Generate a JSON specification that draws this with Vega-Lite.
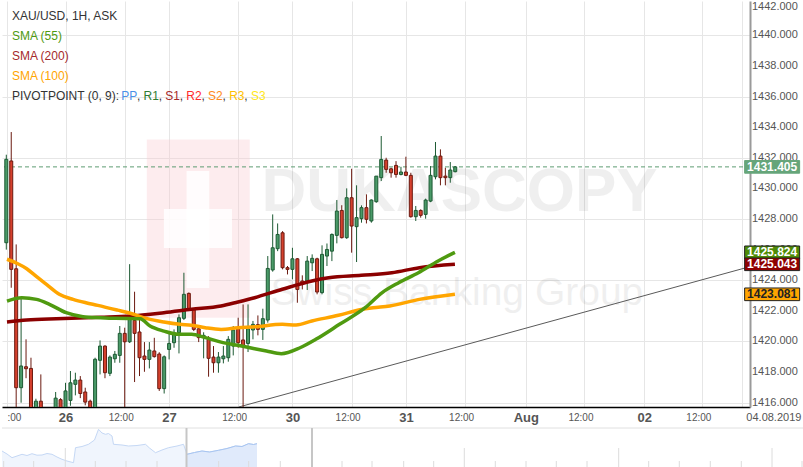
{
"$schema": "https://vega.github.io/schema/vega-lite/v6.json",
"padding": 0,
"background": "white",
"config": {"view": {"stroke": null}, "font": "Liberation Sans"},
"spacing": 21,
"bounds": "flush",
"datasets": {
"one": [{}],
"candles": [
{"t":-1,"o":1426.45,"h":1432.2,"l":1426.0,"c":1431.9},
{"t":0,"o":1431.79,"h":1433.68,"l":1423.51,"c":1424.71},
{"t":1,"o":1424.75,"h":1426.34,"l":1415.3,"c":1416.98},
{"t":2,"o":1416.98,"h":1422.86,"l":1416.0,"c":1418.4},
{"t":3,"o":1418.35,"h":1420.14,"l":1417.6,"c":1418.22},
{"t":4,"o":1418.24,"h":1418.94,"l":1415.2,"c":1415.5},
{"t":5,"o":1415.5,"h":1416.26,"l":1415.1,"c":1416.1},
{"t":6,"o":1416.1,"h":1417.85,"l":1415.0,"c":1415.3},
{"t":7,"o":1415.3,"h":1415.6,"l":1414.6,"c":1414.9},
{"t":8,"o":1414.9,"h":1415.6,"l":1414.5,"c":1415.4},
{"t":9,"o":1415.4,"h":1416.7,"l":1415.1,"c":1416.3},
{"t":10,"o":1416.2,"h":1416.3,"l":1415.2,"c":1415.5},
{"t":11,"o":1415.5,"h":1417.3,"l":1415.3,"c":1416.77},
{"t":12,"o":1416.15,"h":1418.07,"l":1415.8,"c":1417.3},
{"t":13,"o":1417.2,"h":1417.96,"l":1416.48,"c":1417.48},
{"t":14,"o":1417.48,"h":1417.74,"l":1416.3,"c":1416.6},
{"t":15,"o":1416.7,"h":1416.98,"l":1415.83,"c":1416.04},
{"t":16,"o":1416.1,"h":1416.2,"l":1415.3,"c":1415.5},
{"t":17,"o":1415.6,"h":1418.94,"l":1415.4,"c":1418.84},
{"t":18,"o":1418.77,"h":1420.07,"l":1417.85,"c":1419.7},
{"t":19,"o":1419.7,"h":1419.75,"l":1417.6,"c":1417.96},
{"t":20,"o":1417.92,"h":1419.09,"l":1417.74,"c":1418.98},
{"t":21,"o":1418.87,"h":1419.38,"l":1418.61,"c":1419.16},
{"t":22,"o":1419.09,"h":1421.01,"l":1418.61,"c":1420.53},
{"t":23,"o":1420.53,"h":1420.9,"l":1415.2,"c":1419.98},
{"t":24,"o":1419.98,"h":1425.05,"l":1419.9,"c":1421.52},
{"t":25,"o":1421.38,"h":1423.25,"l":1417.35,"c":1420.53},
{"t":26,"o":1420.62,"h":1421.55,"l":1417.74,"c":1418.94},
{"t":27,"o":1419.05,"h":1419.96,"l":1418.02,"c":1418.83},
{"t":28,"o":1418.83,"h":1419.96,"l":1418.24,"c":1419.44},
{"t":29,"o":1419.38,"h":1420.24,"l":1418.95,"c":1419.01},
{"t":30,"o":1419.18,"h":1419.3,"l":1416.77,"c":1416.92},
{"t":31,"o":1416.92,"h":1419.09,"l":1416.6,"c":1419.0},
{"t":32,"o":1419.48,"h":1420.57,"l":1418.83,"c":1419.87},
{"t":33,"o":1419.92,"h":1420.79,"l":1419.59,"c":1420.46},
{"t":34,"o":1420.57,"h":1421.77,"l":1419.22,"c":1421.55},
{"t":35,"o":1421.51,"h":1424.49,"l":1421.4,"c":1423.08},
{"t":36,"o":1423.14,"h":1423.2,"l":1422.0,"c":1422.14},
{"t":37,"o":1422.1,"h":1422.14,"l":1420.68,"c":1420.79},
{"t":38,"o":1420.83,"h":1421.01,"l":1419.96,"c":1420.25},
{"t":39,"o":1420.3,"h":1420.6,"l":1418.9,"c":1420.4},
{"t":40,"o":1420.14,"h":1420.35,"l":1417.7,"c":1418.9},
{"t":41,"o":1418.98,"h":1419.7,"l":1417.96,"c":1418.61},
{"t":42,"o":1418.61,"h":1419.31,"l":1417.96,"c":1418.98},
{"t":43,"o":1418.87,"h":1419.7,"l":1418.57,"c":1419.05},
{"t":44,"o":1418.94,"h":1420.35,"l":1418.68,"c":1420.14},
{"t":45,"o":1419.7,"h":1421.01,"l":1419.09,"c":1420.75},
{"t":46,"o":1420.83,"h":1421.55,"l":1419.59,"c":1419.92},
{"t":47,"o":1420.1,"h":1422.42,"l":1414.5,"c":1419.7},
{"t":48,"o":1419.87,"h":1422.42,"l":1419.31,"c":1420.83},
{"t":49,"o":1420.75,"h":1421.34,"l":1420.14,"c":1421.12},
{"t":50,"o":1421.1,"h":1421.7,"l":1420.4,"c":1420.79},
{"t":51,"o":1420.79,"h":1422.14,"l":1420.1,"c":1421.49},
{"t":52,"o":1421.4,"h":1425.58,"l":1421.23,"c":1424.77},
{"t":53,"o":1424.67,"h":1428.3,"l":1424.56,"c":1426.12},
{"t":54,"o":1426.06,"h":1427.71,"l":1425.9,"c":1426.99},
{"t":55,"o":1427.1,"h":1427.21,"l":1424.71,"c":1424.82},
{"t":56,"o":1424.82,"h":1424.93,"l":1424.38,"c":1424.71},
{"t":57,"o":1424.71,"h":1426.12,"l":1424.06,"c":1425.4},
{"t":58,"o":1425.4,"h":1425.45,"l":1422.53,"c":1423.4},
{"t":59,"o":1423.95,"h":1424.32,"l":1423.4,"c":1423.8},
{"t":60,"o":1423.95,"h":1425.58,"l":1423.36,"c":1425.25},
{"t":61,"o":1425.14,"h":1425.69,"l":1424.6,"c":1425.43},
{"t":62,"o":1425.4,"h":1425.47,"l":1423.08,"c":1423.23},
{"t":63,"o":1423.19,"h":1426.28,"l":1423.08,"c":1425.69},
{"t":64,"o":1425.58,"h":1426.4,"l":1424.93,"c":1426.01},
{"t":65,"o":1425.9,"h":1427.06,"l":1425.25,"c":1426.99},
{"t":66,"o":1426.93,"h":1429.24,"l":1426.41,"c":1428.52},
{"t":67,"o":1428.56,"h":1428.9,"l":1426.73,"c":1426.78},
{"t":68,"o":1426.78,"h":1430.0,"l":1426.7,"c":1429.39},
{"t":69,"o":1429.39,"h":1431.28,"l":1425.8,"c":1427.54},
{"t":70,"o":1427.5,"h":1430.2,"l":1425.19,"c":1428.09},
{"t":71,"o":1428.02,"h":1428.89,"l":1427.76,"c":1428.74},
{"t":72,"o":1428.74,"h":1429.61,"l":1427.71,"c":1427.98},
{"t":73,"o":1427.87,"h":1429.28,"l":1427.76,"c":1429.24},
{"t":74,"o":1429.13,"h":1430.8,"l":1429.06,"c":1430.8},
{"t":75,"o":1430.7,"h":1433.42,"l":1430.48,"c":1431.89},
{"t":76,"o":1431.85,"h":1432.0,"l":1431.02,"c":1431.24},
{"t":77,"o":1431.28,"h":1431.35,"l":1430.7,"c":1431.02},
{"t":78,"o":1431.5,"h":1431.78,"l":1430.7,"c":1430.91},
{"t":79,"o":1430.91,"h":1431.41,"l":1430.85,"c":1431.07},
{"t":80,"o":1431.07,"h":1432.07,"l":1430.8,"c":1430.85},
{"t":81,"o":1430.85,"h":1431.02,"l":1428.09,"c":1428.15},
{"t":82,"o":1428.15,"h":1428.85,"l":1427.87,"c":1428.56},
{"t":83,"o":1428.56,"h":1428.63,"l":1428.09,"c":1428.24},
{"t":84,"o":1428.3,"h":1429.33,"l":1428.02,"c":1429.24},
{"t":85,"o":1429.17,"h":1431.46,"l":1429.1,"c":1430.85},
{"t":86,"o":1430.76,"h":1433.03,"l":1430.59,"c":1432.11},
{"t":87,"o":1432.11,"h":1432.55,"l":1430.2,"c":1430.7},
{"t":88,"o":1430.8,"h":1431.35,"l":1430.2,"c":1430.7},
{"t":89,"o":1430.7,"h":1431.72,"l":1430.37,"c":1431.2},
{"t":90,"o":1431.09,"h":1431.46,"l":1431.05,"c":1431.405}
],
"sma": [
{"s":"200","t":-0.86,"v":1421.27},{"s":"200","t":3.14,"v":1421.40},{"s":"200","t":9.14,"v":1421.49},{"s":"200","t":18.14,"v":1421.58},{"s":"200","t":24.14,"v":1421.66},{"s":"200","t":30.94,"v":1421.88},{"s":"200","t":36.54,"v":1422.10},{"s":"200","t":42.54,"v":1422.32},{"s":"200","t":45.94,"v":1422.58},{"s":"200","t":49.34,"v":1422.86},{"s":"200","t":54.94,"v":1423.41},{"s":"200","t":60.94,"v":1423.95},{"s":"200","t":64.34,"v":1424.16},{"s":"200","t":70.94,"v":1424.32},{"s":"200","t":77.14,"v":1424.49},{"s":"200","t":82.74,"v":1424.82},{"s":"200","t":89.94,"v":1425.04},
{"s":"100","t":-0.86,"v":1425.37},{"s":"100","t":1.14,"v":1425.11},{"s":"100","t":3.14,"v":1424.75},{"s":"100","t":5.14,"v":1424.23},{"s":"100","t":7.14,"v":1423.73},{"s":"100","t":9.74,"v":1423.08},{"s":"100","t":12.54,"v":1422.75},{"s":"100","t":15.14,"v":1422.53},{"s":"100","t":17.54,"v":1422.36},{"s":"100","t":21.54,"v":1422.05},{"s":"100","t":24.14,"v":1421.84},{"s":"100","t":27.54,"v":1421.49},{"s":"100","t":30.94,"v":1421.27},{"s":"100","t":34.14,"v":1421.12},{"s":"100","t":36.54,"v":1421.06},{"s":"100","t":39.34,"v":1420.90},{"s":"100","t":42.54,"v":1420.79},{"s":"100","t":45.94,"v":1420.90},{"s":"100","t":49.34,"v":1420.96},{"s":"100","t":54.94,"v":1421.12},{"s":"100","t":57.74,"v":1421.08},{"s":"100","t":60.94,"v":1421.34},{"s":"100","t":66.34,"v":1421.71},{"s":"100","t":70.94,"v":1422.09},{"s":"100","t":73.34,"v":1422.20},{"s":"100","t":76.74,"v":1422.32},{"s":"100","t":82.74,"v":1422.75},{"s":"100","t":89.94,"v":1423.08},
{"s":"55","t":-0.86,"v":1422.64},{"s":"55","t":2.14,"v":1422.86},{"s":"55","t":5.14,"v":1422.75},{"s":"55","t":7.74,"v":1422.43},{"s":"55","t":11.14,"v":1421.88},{"s":"55","t":14.54,"v":1421.62},{"s":"55","t":18.14,"v":1421.55},{"s":"55","t":21.14,"v":1421.51},{"s":"55","t":26.14,"v":1421.49},{"s":"55","t":28.14,"v":1421.01},{"s":"55","t":30.94,"v":1420.68},{"s":"55","t":33.94,"v":1420.47},{"s":"55","t":36.54,"v":1420.47},{"s":"55","t":39.34,"v":1420.25},{"s":"55","t":42.54,"v":1419.96},{"s":"55","t":45.94,"v":1419.75},{"s":"55","t":49.34,"v":1419.53},{"s":"55","t":51.74,"v":1419.38},{"s":"55","t":54.74,"v":1419.20},{"s":"55","t":58.54,"v":1419.59},{"s":"55","t":61.74,"v":1420.14},{"s":"55","t":66.54,"v":1421.12},{"s":"55","t":71.74,"v":1422.21},{"s":"55","t":75.14,"v":1423.18},{"s":"55","t":78.54,"v":1423.84},{"s":"55","t":82.54,"v":1424.49},{"s":"55","t":86.54,"v":1425.26},{"s":"55","t":89.94,"v":1425.82}
],
"trend": [{"t":46.14,"v":1415.72},{"t":148.74,"v":1424.80}],
"yticks": [{"v":1416},{"v":1418},{"v":1420},{"v":1422},{"v":1424},{"v":1426},{"v":1428},{"v":1430},{"v":1432},{"v":1434},{"v":1436},{"v":1438},{"v":1440},{"v":1442}],
"boxes": [
{"k":"price","v":1431.405,"lab":"1431.405"},
{"k":"sma55","v":1425.824,"lab":"1425.824"},
{"k":"sma200","v":1425.043,"lab":"1425.043"},
{"k":"sma100","v":1423.081,"lab":"1423.081"}
],
"nav": [
{"n":0,"v":17},{"n":1,"v":14},{"n":2,"v":10.3},{"n":3,"v":12},{"n":4,"v":13.7},{"n":5,"v":12.5},{"n":6,"v":14.3},{"n":7,"v":12.8},{"n":8,"v":13},{"n":9,"v":14.5},{"n":10,"v":13.7},{"n":11,"v":11},{"n":12,"v":8.7},{"n":13,"v":7},{"n":14.3,"v":5.3},{"n":14.7,"v":20.3},{"n":16,"v":21.5},{"n":17.3,"v":23.7},{"n":18.5,"v":28},{"n":19.3,"v":38.7},{"n":20,"v":35},{"n":20.7,"v":33.7},{"n":21.3,"v":34.5},{"n":22,"v":32},{"n":22.3,"v":23.7},{"n":24,"v":23},{"n":25.3,"v":22},{"n":27,"v":22.5},{"n":28.7,"v":23.7},{"n":29.5,"v":20},{"n":30.7,"v":15.3},{"n":32,"v":18},{"n":33.3,"v":20.3},{"n":35,"v":22},{"n":36.3,"v":23.7},{"n":37,"v":13.7},{"n":38.5,"v":15.5},{"n":40,"v":17},{"n":41.5,"v":16},{"n":43.3,"v":17.7},{"n":45,"v":19.5},{"n":46.7,"v":22},{"n":48,"v":21.5},{"n":49.3,"v":24.3},{"n":50.3,"v":23.5},{"n":51,"v":24.3}
],
"navticks": [{"n":0.34},{"n":6.34},{"n":18.66},{"n":24.8},{"n":31},{"n":43.34},{"n":49.34},{"n":55.66},{"n":68},{"n":74},{"n":80.34},{"n":86.34},{"n":98.66},{"n":104.8},{"n":110.86},{"n":117},{"n":129.34},{"n":135.46},{"n":141.66},{"n":147.86},{"n":160}],
"navdays": [{"n":12.66},{"n":92.46},{"n":123.34},{"n":154}]
},
"vconcat": [
{
"width": 748,
"height": 406,
"layer": [
{"data":{"name":"one"},"mark":{"type":"rect","fill":"#f9c9cd","opacity":0.35},"encoding":{"x":{"datum":27.48},"x2":{"datum":48.34},"y":{"datum":1433.2},"y2":{"datum":1421.55}}},
{"data":{"name":"one"},"mark":{"type":"rect","fill":"white","opacity":0.85},"encoding":{"x":{"datum":35.54},"x2":{"datum":40.14},"y":{"datum":1431.13},"y2":{"datum":1423.49}}},
{"data":{"name":"one"},"mark":{"type":"rect","fill":"white","opacity":0.85},"encoding":{"x":{"datum":30.94},"x2":{"datum":44.74},"y":{"datum":1428.65},"y2":{"datum":1426.1}}},
{"data":{"name":"one"},"mark":{"type":"text","text":"DUKASCOPY","font":"Liberation Sans","fontWeight":"bold","fontSize":62,"align":"left","baseline":"alphabetic","fill":"#000000","opacity":0.06},"encoding":{"x":{"datum":50.74},"y":{"datum":1428.52}}},
{"data":{"name":"one"},"mark":{"type":"text","text":"Swiss Banking Group","font":"Liberation Sans","fontSize":39,"align":"left","baseline":"alphabetic","fill":"#000000","opacity":0.06},"encoding":{"x":{"datum":52.54},"y":{"datum":1422.38}}},
{"data":{"name":"one"},"mark":{"type":"rule","color":"#5e9c72","strokeWidth":1,"strokeDash":[4,3]},"encoding":{"y":{"datum":1431.405}}},
{"data":{"name":"trend"},"mark":{"type":"line","color":"#5a5a5a","strokeWidth":1,"clip":true},"encoding":{"x":{"field":"t","type":"quantitative"},"y":{"field":"v","type":"quantitative"}}},
{"data":{"name":"candles"},"mark":{"type":"rule","strokeWidth":1,"clip":true},
 "encoding":{
  "x":{"field":"t","type":"quantitative","scale":{"domain":[-0.86,148.74],"nice":false,"zero":false},
   "axis":{"title":null,"orient":"bottom","values":[-0.86,11,23,32,46,57,69,80,92,104.3,116.2,128.3,140.1,148.1],
    "labelExpr":"datum.value < 0 ? ':00' : datum.value < 12 ? '26' : datum.value < 30 ? '12:00' : datum.value < 40 ? '27' : datum.value < 50 ? '12:00' : datum.value < 60 ? '30' : datum.value < 75 ? '12:00' : datum.value < 85 ? '31' : datum.value < 100 ? '12:00' : datum.value < 110 ? 'Aug' : datum.value < 120 ? '12:00' : datum.value < 135 ? '02' : datum.value < 145 ? '12:00' : '04.08.2019'",
    "labelFlush":false,"labelOverlap":false,"ticks":false,"tickSize":0,"labelPadding":10,"labelBaseline":"middle","labelColor":"#555555","labelFont":"Liberation Sans",
    "labelFontWeight":{"condition":{"test":"indexof([-0.86,23,46,69,92,116.2,140.1,148.1], datum.value) >= 0","value":"normal"},"value":"bold"},
    "labelFontSize":{"condition":[{"test":"datum.value > 148","value":11},{"test":"indexof([-0.86,23,46,69,92,116.2,140.1], datum.value) >= 0","value":10}],"value":13},
    "labelOffset":{"condition":[{"test":"datum.value > 148","value":4},{"test":"indexof([23,46,69,92,116.2,140.1], datum.value) >= 0","value":-4}],"value":0},
    "labelAlign":{"condition":{"test":"datum.value < 0 || datum.value > 148","value":"left"},"value":"center"},
    "domainColor":"#000000","domainWidth":1.5,"grid":true,"gridColor":"#e6e6e6","gridWidth":1}},
  "y":{"field":"l","type":"quantitative","scale":{"domain":[1415.72,1442.24],"nice":false,"zero":false},
   "axis":{"title":null,"orient":"right","values":[1416,1418,1420,1422,1424,1426,1428,1430,1432,1434,1436,1438,1440,1442],"labels":false,"ticks":false,"tickSize":0,"domainColor":"#9a9a9a","domainWidth":2,"grid":true,"gridColor":"#e6e6e6","gridWidth":1}},
  "y2":{"field":"h"},
  "color":{"condition":{"test":"datum.c < datum.o","value":"#6b1a10"},"value":"#1d5a33"}
 }},
{"data":{"name":"candles"},"mark":{"type":"bar","width":3,"strokeWidth":1,"clip":true},
 "encoding":{
  "x":{"field":"t","type":"quantitative"},
  "y":{"field":"o","type":"quantitative"},
  "y2":{"field":"c"},
  "fill":{"condition":{"test":"datum.c < datum.o","value":"#d5402d"},"value":"#4a9a68"},
  "stroke":{"condition":{"test":"datum.c < datum.o","value":"#6b1a10"},"value":"#1d5a33"}
 }},
{"data":{"name":"sma"},"mark":{"type":"line","strokeWidth":3.5,"clip":true,"interpolate":"monotone"},
 "encoding":{
  "x":{"field":"t","type":"quantitative"},
  "y":{"field":"v","type":"quantitative"},
  "color":{"field":"s","type":"nominal","scale":{"domain":["200","100","55"],"range":["#8b0000","#ffa500","#4f9a10"]},"legend":null}
 }},
{"data":{"name":"yticks"},"transform":[{"filter":"datum.v < 1441"}],"mark":{"type":"text","align":"left","baseline":"middle","fontSize":11,"color":"#555555","font":"Liberation Sans"},
 "encoding":{"x":{"datum":150.14},"y":{"field":"v","type":"quantitative"},"text":{"field":"v","type":"quantitative","format":".3f"}}},
{"data":{"name":"yticks"},"transform":[{"filter":"datum.v > 1441"}],"mark":{"type":"text","align":"left","baseline":"middle","fontSize":11,"color":"#555555","font":"Liberation Sans","dy":2},
 "encoding":{"x":{"datum":150.14},"y":{"field":"v","type":"quantitative"},"text":{"field":"v","type":"quantitative","format":".3f"}}},
{"data":{"name":"boxes"},"mark":{"type":"point","shape":"M-1,-0.23L1,-0.23L1,0.23L-1,0.23Z","size":3025,"filled":true,"opacity":1,"strokeWidth":1},
 "encoding":{
  "x":{"datum":154.24},
  "y":{"field":"v","type":"quantitative"},
  "fill":{"field":"k","type":"nominal","scale":{"domain":["price","sma55","sma200","sma100"],"range":["#66a57a","#4e8b06","#8f0000","#ffa500"]},"legend":null},
  "stroke":{"condition":{"test":"datum.k == 'price'","value":"#66a57a"},"value":"#222222"}
 }},
{"data":{"name":"boxes"},"mark":{"type":"text","align":"center","baseline":"middle","fontSize":12,"fontWeight":"bold","font":"Liberation Sans"},
 "encoding":{
  "x":{"datum":154.24},
  "y":{"field":"v","type":"quantitative"},
  "text":{"field":"lab"},
  "color":{"condition":{"test":"datum.k == 'sma100'","value":"#222222"},"value":"#ffffff"}
 }},
{"data":{"name":"one"},"mark":{"type":"text","text":"XAU/USD, 1H, ASK","align":"left","baseline":"middle","fontSize":12,"color":"#333333"},"encoding":{"x":{"datum":0.14},"y":{"datum":1441.26}}},
{"data":{"name":"one"},"mark":{"type":"text","text":"SMA (55)","align":"left","baseline":"middle","fontSize":12,"color":"#4f9a10"},"encoding":{"x":{"datum":0.14},"y":{"datum":1439.95}}},
{"data":{"name":"one"},"mark":{"type":"text","text":"SMA (200)","align":"left","baseline":"middle","fontSize":12,"color":"#a52a2a"},"encoding":{"x":{"datum":0.14},"y":{"datum":1438.64}}},
{"data":{"name":"one"},"mark":{"type":"text","text":"SMA (100)","align":"left","baseline":"middle","fontSize":12,"color":"#ffa500"},"encoding":{"x":{"datum":0.14},"y":{"datum":1437.33}}},
{"data":{"name":"one"},"mark":{"type":"text","text":"PIVOTPOINT (0, 9):","align":"left","baseline":"middle","fontSize":12,"color":"#333333"},"encoding":{"x":{"datum":0.14},"y":{"datum":1436.03}}},
{"data":{"name":"one"},"mark":{"type":"text","text":"PP","align":"left","baseline":"middle","fontSize":12,"color":"#4a8fe7"},"encoding":{"x":{"datum":22.28},"y":{"datum":1436.03}}},
{"data":{"name":"one"},"mark":{"type":"text","text":",","align":"left","baseline":"middle","fontSize":12,"color":"#333333"},"encoding":{"x":{"datum":25.48},"y":{"datum":1436.03}}},
{"data":{"name":"one"},"mark":{"type":"text","text":"R1","align":"left","baseline":"middle","fontSize":12,"color":"#2e7d32"},"encoding":{"x":{"datum":26.82},"y":{"datum":1436.03}}},
{"data":{"name":"one"},"mark":{"type":"text","text":",","align":"left","baseline":"middle","fontSize":12,"color":"#333333"},"encoding":{"x":{"datum":29.88},"y":{"datum":1436.03}}},
{"data":{"name":"one"},"mark":{"type":"text","text":"S1","align":"left","baseline":"middle","fontSize":12,"color":"#a52a2a"},"encoding":{"x":{"datum":31.22},"y":{"datum":1436.03}}},
{"data":{"name":"one"},"mark":{"type":"text","text":",","align":"left","baseline":"middle","fontSize":12,"color":"#333333"},"encoding":{"x":{"datum":34.16},"y":{"datum":1436.03}}},
{"data":{"name":"one"},"mark":{"type":"text","text":"R2","align":"left","baseline":"middle","fontSize":12,"color":"#ff2a2a"},"encoding":{"x":{"datum":35.5},"y":{"datum":1436.03}}},
{"data":{"name":"one"},"mark":{"type":"text","text":",","align":"left","baseline":"middle","fontSize":12,"color":"#333333"},"encoding":{"x":{"datum":38.56},"y":{"datum":1436.03}}},
{"data":{"name":"one"},"mark":{"type":"text","text":"S2","align":"left","baseline":"middle","fontSize":12,"color":"#ff8a1a"},"encoding":{"x":{"datum":39.9},"y":{"datum":1436.03}}},
{"data":{"name":"one"},"mark":{"type":"text","text":",","align":"left","baseline":"middle","fontSize":12,"color":"#333333"},"encoding":{"x":{"datum":42.84},"y":{"datum":1436.03}}},
{"data":{"name":"one"},"mark":{"type":"text","text":"R3","align":"left","baseline":"middle","fontSize":12,"color":"#ffbf00"},"encoding":{"x":{"datum":44.18},"y":{"datum":1436.03}}},
{"data":{"name":"one"},"mark":{"type":"text","text":",","align":"left","baseline":"middle","fontSize":12,"color":"#333333"},"encoding":{"x":{"datum":47.24},"y":{"datum":1436.03}}},
{"data":{"name":"one"},"mark":{"type":"text","text":"S3","align":"left","baseline":"middle","fontSize":12,"color":"#ffe81a"},"encoding":{"x":{"datum":48.58},"y":{"datum":1436.03}}}
]
},
{
"width": 803,
"height": 40,
"layer": [
{"data":{"name":"nav"},"mark":{"type":"area","fill":"#eaf1fc","line":{"color":"#c5d8f5","strokeWidth":1}},
 "encoding":{
  "x":{"field":"n","type":"quantitative","scale":{"domain":[0,160.6],"nice":false,"zero":false},"axis":null},
  "y":{"field":"v","type":"quantitative","scale":{"domain":[0,40],"nice":false},"axis":null}
 }},
{"data":{"name":"nav"},"transform":[{"filter":"datum.n >= 37"}],"mark":{"type":"area","fill":"#d9e6fa","line":{"color":"#a8c5f1","strokeWidth":1}},
 "encoding":{"x":{"field":"n","type":"quantitative"},"y":{"field":"v","type":"quantitative"}}},
{"data":{"name":"navticks"},"mark":{"type":"rule","color":"#dcdcdc","strokeWidth":1},"encoding":{"x":{"field":"n","type":"quantitative"},"y":{"datum":0},"y2":{"datum":7}}},
{"data":{"name":"navdays"},"mark":{"type":"rule","color":"#dcdcdc","strokeWidth":1},"encoding":{"x":{"field":"n","type":"quantitative"},"y":{"datum":0},"y2":{"datum":20}}},
{"data":{"name":"one"},"mark":{"type":"rule","color":"#e0e0e0","strokeWidth":1},"encoding":{"y":{"datum":40}}},
{"data":{"name":"one"},"mark":{"type":"rule","color":"#c6c6c6","strokeWidth":2},"encoding":{"x":{"datum":36.9}}},
{"data":{"name":"one"},"mark":{"type":"rule","color":"#c6c6c6","strokeWidth":2},"encoding":{"x":{"datum":62}}}
]
}
]
}
